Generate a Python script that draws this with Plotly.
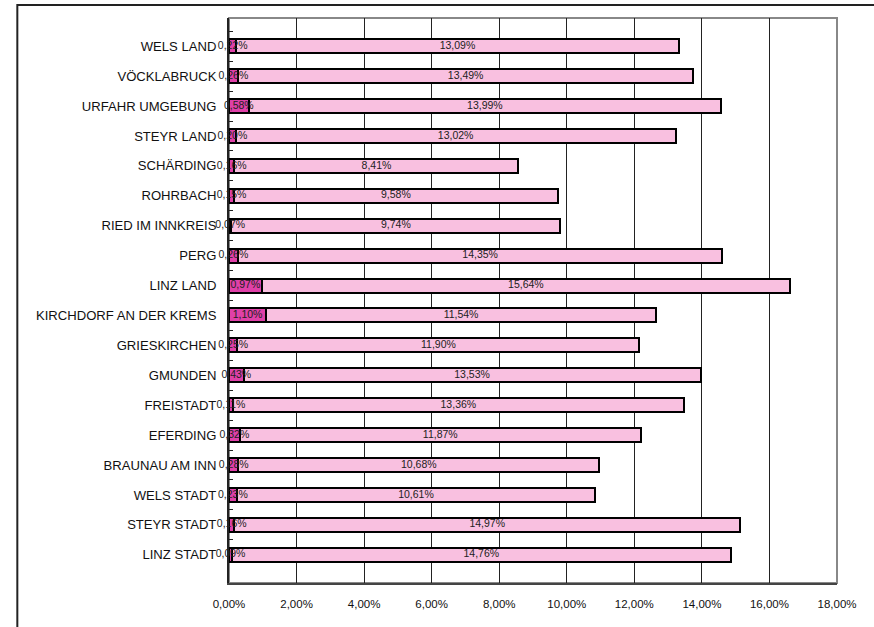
import plotly.graph_objects as go

# Categories listed top to bottom as in the chart
districts = ["WELS LAND", "VÖCKLABRUCK", "URFAHR UMGEBUNG", "STEYR LAND", "SCHÄRDING",
             "ROHRBACH", "RIED IM INNKREIS", "PERG", "LINZ LAND", "KIRCHDORF AN DER KREMS",
             "GRIESKIRCHEN", "GMUNDEN", "FREISTADT", "EFERDING", "BRAUNAU AM INN",
             "WELS STADT", "STEYR STADT", "LINZ STADT"]
series_dark = [0.22, 0.26, 0.58, 0.20, 0.16, 0.15, 0.07, 0.26, 0.97, 1.10,
               0.25, 0.43, 0.11, 0.32, 0.28, 0.23, 0.16, 0.09]
series_light = [13.09, 13.49, 13.99, 13.02, 8.41, 9.58, 9.74, 14.35, 15.64, 11.54,
                11.90, 13.53, 13.36, 11.87, 10.68, 10.61, 14.97, 14.76]
x_ticks = [0, 2, 4, 6, 8, 10, 12, 14, 16, 18]
x_tick_labels = [f"{v:.2f}".replace(".", ",") + "%" for v in x_ticks]

def fmt(v):
    return f"{v:.2f}".replace(".", ",") + "%"

FONT = "Arial, Liberation Sans, sans-serif"

fig = go.Figure()
fig.add_trace(go.Bar(
    y=districts, x=series_dark, orientation="h",
    marker=dict(color="#e040a8", line=dict(color="black", width=2)),
    hoverinfo="x+y", showlegend=False,
))
fig.add_trace(go.Bar(
    y=districts, x=series_light, orientation="h",
    marker=dict(color="#f9c0e0", line=dict(color="black", width=2)),
    hoverinfo="x+y", showlegend=False,
))
# labels for the light segments (centred in each segment)
fig.add_trace(go.Scatter(
    y=districts, x=[d + l / 2 for d, l in zip(series_dark, series_light)], mode="text",
    text=[fmt(v) for v in series_light], textposition="middle center",
    textfont=dict(family=FONT, size=10.5, color="#222"),
    cliponaxis=False, showlegend=False, hoverinfo="skip",
))
# labels for the small dark segments, drawn on top
fig.add_trace(go.Scatter(
    y=districts, x=[v / 2 for v in series_dark], mode="text",
    text=[fmt(v) for v in series_dark], textposition="middle center",
    textfont=dict(family=FONT, size=10.5, color="#222"),
    cliponaxis=False, showlegend=False, hoverinfo="skip",
))

# plot area borders (top / right, gray) and outer frame
x_left = (18 - 229.5) / (837 - 229.5)
y_top = (627 - 5 - 44) / (627 - 18 - 44)
fig.add_shape(type="rect", xref="paper", yref="paper", x0=0, x1=1, y0=0, y1=1,
              line=dict(color="#888888", width=2), layer="below")
fig.add_shape(type="rect", xref="paper", yref="paper", x0=x_left, x1=1.2, y0=-0.2, y1=y_top,
              line=dict(color="#222222", width=2), layer="below")

fig.update_layout(
    width=874, height=627, autosize=False,
    margin=dict(l=229, r=37, t=18, b=44),
    paper_bgcolor="white", plot_bgcolor="white",
    barmode="stack", bargap=0.53,
    font=dict(family=FONT, size=11, color="#111"),
    separators=",.",
)
fig.update_xaxes(
    range=[0, 18], tickvals=x_ticks, ticktext=x_tick_labels,
    showgrid=True, gridcolor="#222", gridwidth=1,
    showline=True, linecolor="#444", linewidth=2,
    ticks="inside", ticklen=7, tickcolor="#222",
    tickfont=dict(family=FONT, size=11.5, color="#111"),
    ticklabelstandoff=9,
    zeroline=False, fixedrange=True,
)
fig.update_yaxes(
    categoryorder="array", categoryarray=districts, autorange="reversed",
    showline=True, linecolor="#222", linewidth=2,
    ticks="inside", ticklen=4, tickcolor="#222", tickson="boundaries",
    tickfont=dict(family=FONT, size=13.1, color="#111"),
    ticklabelstandoff=8, showgrid=False, fixedrange=True,
)

fig.write_html("out.html", config={"displayModeBar": False},
               post_script="document.body.style.margin='0';document.body.style.overflow='hidden';")
